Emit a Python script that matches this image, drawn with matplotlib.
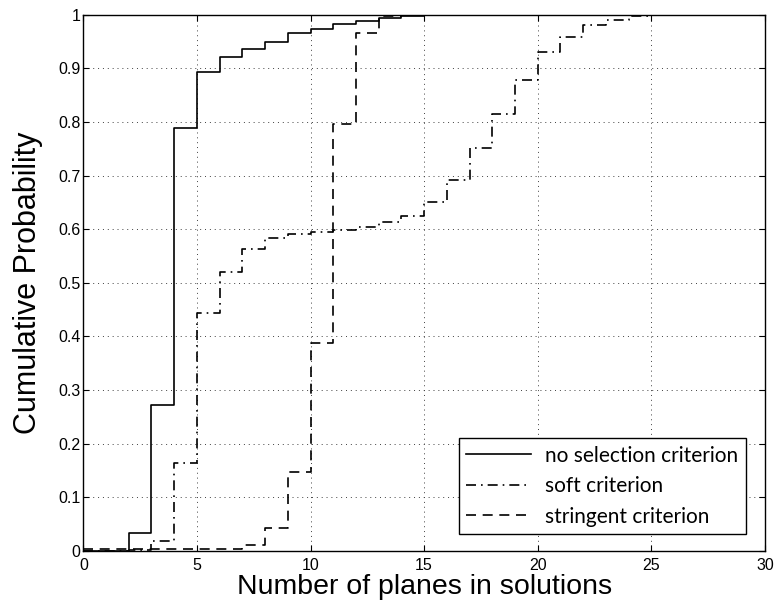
import matplotlib
matplotlib.use("Agg")
import matplotlib.pyplot as plt
import numpy as np

planes = list(range(0, 28))
no_selection = [0, 0, 0.033, 0.273, 0.788, 0.893, 0.921, 0.936, 0.950, 0.965,
                0.974, 0.983, 0.988, 0.993, 0.997, 0.999, 1, 1, 1, 1,
                1, 1, 1, 1, 1, 1, 1, 1]
soft = [0, 0, 0.002, 0.019, 0.165, 0.443, 0.521, 0.563, 0.583, 0.591,
        0.595, 0.599, 0.605, 0.614, 0.624, 0.651, 0.691, 0.752, 0.815, 0.879,
        0.930, 0.959, 0.980, 0.991, 0.998, 1, 1, 1]
stringent = [0.004, 0.004, 0.004, 0.004, 0.004, 0.004, 0.004, 0.011, 0.043, 0.147,
             0.388, 0.797, 0.965, 0.998, 1, 1, 1, 1, 1, 1,
             1, 1, 1, 1, 1, 1, 1, 1]
labels = ["no selection criterion", "soft criterion", "stringent criterion"]
xticks = [0, 5, 10, 15, 20, 25, 30]
yticks = [0, 0.1, 0.2, 0.3, 0.4, 0.5, 0.6, 0.7, 0.8, 0.9, 1]
ytick_labels = ["0", "0.1", "0.2", "0.3", "0.4", "0.5", "0.6", "0.7", "0.8", "0.9", "1"]

plt.rcParams['font.family'] = ['Liberation Sans', 'DejaVu Sans']

fig = plt.figure(figsize=(7.75, 6.02), dpi=100)
ax = fig.add_axes([0.1075, 0.0847, 0.8795, 0.8909])

lw = 1.2
ax.step(planes, no_selection, where='post', color='black', lw=lw, label=labels[0])
ax.step(planes, soft, where='post', color='black', lw=lw, dashes=(6, 3, 1, 3), label=labels[1])
ax.step(planes, stringent, where='post', color='black', lw=lw, dashes=(6, 4), label=labels[2])

ax.set_xlim(0, 30)
ax.set_ylim(0, 1)
ax.set_xticks(xticks)
ax.set_yticks(yticks)
ax.set_yticklabels(ytick_labels)
ax.tick_params(direction='in', top=True, right=True, length=4, width=0.8,
               labelsize=11.5, colors='black')
ax.tick_params(axis='x', pad=5)
ax.tick_params(axis='y', pad=2)
ax.grid(True, color='0.25', linestyle=(0, (1, 4)), linewidth=0.7)
for s in ax.spines.values():
    s.set_linewidth(1.0)

ax.set_xlabel("Number of planes in solutions", fontsize=20.5, labelpad=1)
ax.set_ylabel("Cumulative Probability", fontsize=22, labelpad=11)

leg = ax.legend(loc='lower right', bbox_to_anchor=(0.972, 0.032), borderaxespad=0,
                fancybox=False, framealpha=1, edgecolor='black',
                prop={'family': 'Lato', 'size': 15}, handlelength=3.1,
                handletextpad=0.7, labelspacing=0.5, borderpad=0.35)
leg.get_frame().set_linewidth(1.0)

fig.savefig("out.png", dpi=100)
